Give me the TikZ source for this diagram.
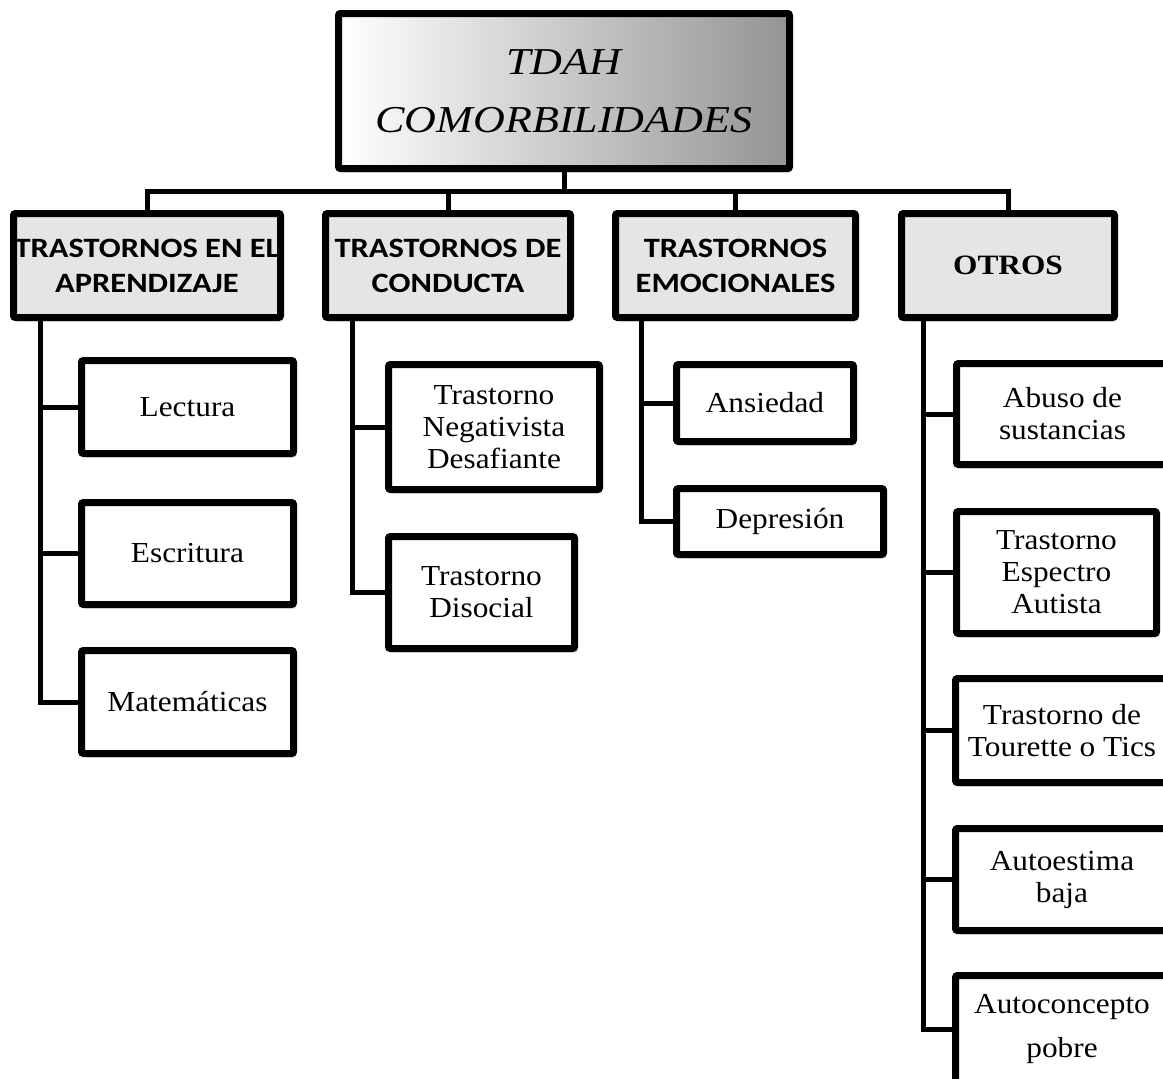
\documentclass[tikz,border=0pt]{standalone}
\usepackage{fontspec}
\setmainfont{Liberation Serif}[FakeStretch=1.08]
\newfontfamily\rootfont{Liberation Serif}[FakeStretch=1.16]
\newfontfamily\headfont{Carlito}[FakeStretch=1.16]
\newfontfamily\otrosfont{Liberation Serif}[FakeStretch=1.12]
\usetikzlibrary{shadows}

\begin{document}
\begin{tikzpicture}[x=1pt, y=-1pt, line join=miter,
  box/.style={draw=black, line width=7pt, rounded corners=2pt, inner sep=0pt, align=center,
    drop shadow={shadow xshift=3pt, shadow yshift=-4pt, opacity=0.25}},
  rootbox/.style={box, left color=white, right color=black!42,
    font=\rootfont\itshape\fontsize{38}{58}\selectfont},
  headbox/.style={box, fill=black!10, font=\headfont\bfseries\fontsize{28}{35}\selectfont},
  leafbox/.style={box, fill=white, font=\fontsize{29}{32}\selectfont},
  link/.style={line width=5pt}]

  %% ════ 根节点 ════
  \node[rootbox, minimum width=451pt, minimum height=155pt] (root) at (564,91) {TDAH\\COMORBILIDADES};

  %% ════ 第一层 ════
  \node[headbox, minimum width=267pt, minimum height=104pt] (apr) at (147,265.5) {TRASTORNOS EN EL\\APRENDIZAJE};
  \node[headbox, minimum width=245pt, minimum height=104pt] (con) at (448,265.5) {TRASTORNOS DE\\CONDUCTA};
  \node[headbox, minimum width=240pt, minimum height=104pt] (emo) at (735.5,265.5) {TRASTORNOS\\EMOCIONALES};
  \node[headbox, minimum width=213pt, minimum height=104pt, font=\otrosfont\bfseries\fontsize{28}{35}\selectfont] (otr) at (1008,265.5) {OTROS};

  %% ════ 叶子 ════
  \node[leafbox, minimum width=212pt, minimum height=93pt]  (lec) at (187.5,407)   {Lectura};
  \node[leafbox, minimum width=212pt, minimum height=102pt] (esc) at (187.5,553.5) {Escritura};
  \node[leafbox, minimum width=212pt, minimum height=103pt] (mat) at (187.5,702)   {Matemáticas};
  \node[leafbox, minimum width=211pt, minimum height=125pt] (ndn) at (494,427)     {Trastorno\\Negativista\\Desafiante};
  \node[leafbox, minimum width=186pt, minimum height=112pt] (dis) at (481.5,592.5) {Trastorno\\Disocial};
  \node[leafbox, minimum width=177pt, minimum height=77pt]  (ans) at (765,403)     {Ansiedad};
  \node[leafbox, minimum width=207pt, minimum height=66pt]  (dep) at (780,521.5)   {Depresión};
  \node[leafbox, minimum width=212pt, minimum height=101pt] (abu) at (1062.5,414)  {Abuso de\\sustancias};
  \node[leafbox, minimum width=200pt, minimum height=122pt] (esp) at (1056.5,572.5) {Trastorno\\Espectro\\Autista};
  \node[leafbox, minimum width=213pt, minimum height=104pt] (tou) at (1062,730.5)  {Trastorno de\\Tourette o Tics};
  \node[leafbox, minimum width=213pt, minimum height=102pt] (aut) at (1062,879.5)  {Autoestima\\baja};
  \node[leafbox, minimum width=213pt, minimum height=107pt] (acp) at (1062,1029)   {Autoconcepto\\[12pt]pobre};

  %% ════ 连线：根 → 第一层 ════
  \coordinate (bus) at (564,191);
  \draw[link] (root.south) -- (bus);
  \draw[link] (apr.north) |- (bus) -| (otr.north);
  \draw[link] (con.north) -- (con.north |- bus);
  \draw[link] (emo.north) -- (emo.north |- bus);

  %% ════ 连线：第一层 → 叶子（竖干 + 横枝）════
  \coordinate (t1) at (40,317.5);
  \coordinate (t2) at (352,317.5);
  \coordinate (t3) at (641,317.5);
  \coordinate (t4) at (923,317.5);
  \draw[link] (t1) |- (lec.west);
  \draw[link] (t1) |- (esc.west);
  \draw[link] (t1) |- (mat.west);
  \draw[link] (t2) |- (ndn.west);
  \draw[link] (t2) |- (dis.west);
  \draw[link] (t3) |- (ans.west);
  \draw[link] (t3) |- (dep.west);
  \draw[link] (t4) |- (abu.west);
  \draw[link] (t4) |- (esp.west);
  \draw[link] (t4) |- (tou.west);
  \draw[link] (t4) |- (aut.west);
  \draw[link] (t4) |- (acp.west);

  % 钉死画布
  \pgfresetboundingbox
  \path[use as bounding box] (0,0) rectangle (1163,1079);
\end{tikzpicture}
\end{document}
